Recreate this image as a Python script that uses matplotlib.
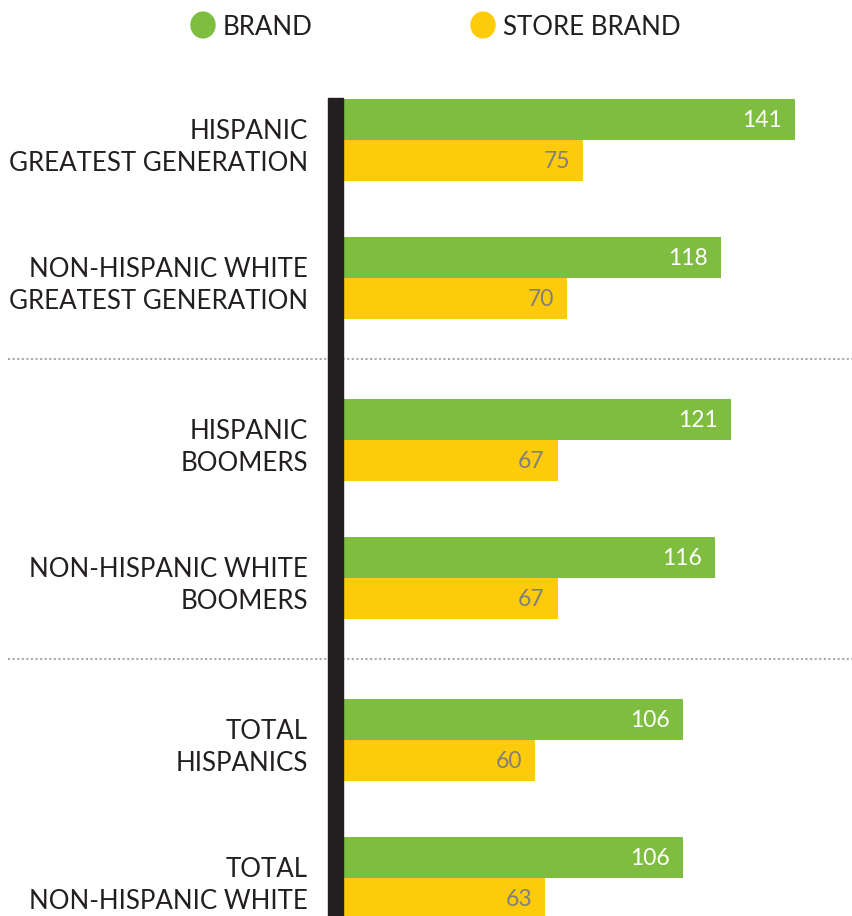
import matplotlib.pyplot as plt
from matplotlib.patches import Circle

# data
labels = [
    ["HISPANIC", "GREATEST GENERATION"],
    ["NON-HISPANIC WHITE", "GREATEST GENERATION"],
    ["HISPANIC", "BOOMERS"],
    ["NON-HISPANIC WHITE", "BOOMERS"],
    ["TOTAL", "HISPANICS"],
    ["TOTAL", "NON-HISPANIC WHITE"],
]
brand = [141, 118, 121, 116, 106, 106]
store_brand = [75, 70, 67, 67, 60, 63]
section = [0, 0, 1, 1, 2, 2]

GREEN = "#7FBD41"
YELLOW = "#FDCB0A"
DARK = "#231F20"
GREY = "#7F7F7F"

plt.rcParams['font.family'] = ['Lato', 'DejaVu Sans']
W, H = 853, 916
fig = plt.figure(figsize=(W / 100, H / 100), dpi=100)

# axes: pixel units vertically, value units horizontally
x0 = 343
px_per_unit = (795 - 343) / 141
ax = fig.add_axes([x0 / W, 0, 1 - x0 / W, 1])
ax.set_xlim(0, (W - x0) / px_per_unit)
ax.set_ylim(H, 0)
ax.axis('off')

bar_h = 41
tops = [99 + i * 138 + s * 24 for i, s in enumerate(section)]

for i, (b, s) in enumerate(zip(brand, store_brand)):
    t = tops[i]
    ax.barh(t + bar_h / 2, b, height=bar_h, color=GREEN, left=0)
    ax.barh(t + bar_h * 1.5, s, height=bar_h, color=YELLOW, left=0)
    ax.text(b - 13 / px_per_unit, t + bar_h / 2 + 1, str(b), color="white",
            fontsize=16.5, ha='right', va='center')
    ax.text(s - 13 / px_per_unit, t + bar_h * 1.5 + 1, str(s), color=GREY,
            fontsize=16.5, ha='right', va='center')

# row labels
for i, lab in enumerate(labels):
    t = tops[i]
    fig.text(308 / W, 1 - (t + 32.5) / H, lab[0], ha='right', va='center',
             fontsize=18.6, color=DARK)
    fig.text(308 / W, 1 - (t + 64.5) / H, lab[1], ha='right', va='center',
             fontsize=18.6, color=DARK)

# dotted separators
for s in (1, 2):
    first = section.index(s)
    y = (tops[first - 1] + 2 * bar_h + tops[first]) / 2
    fig.lines.append(plt.Line2D([8 / W, 1], [1 - y / H, 1 - y / H],
                                transform=fig.transFigure, color="#AAAAAA",
                                lw=1.5, linestyle=(0, (1, 1.2)), zorder=0))

# black axis bar
fig.patches.append(plt.Rectangle((328 / W, 0), 15 / W, 1 - 98 / H,
                                 transform=fig.transFigure, color=DARK, zorder=3))

# legend
for cx, tx, col, name in [(203, 223, GREEN, "BRAND"), (483, 503, YELLOW, "STORE BRAND")]:
    fig.patches.append(Circle((cx / W, 1 - 25 / H), 12 / W, transform=fig.transFigure,
                              color=col))
    fig.text(tx / W, 1 - 27.5 / H, name, ha='left', va='center', fontsize=18.6,
             color=DARK)

fig.savefig("out.png", dpi=100)
